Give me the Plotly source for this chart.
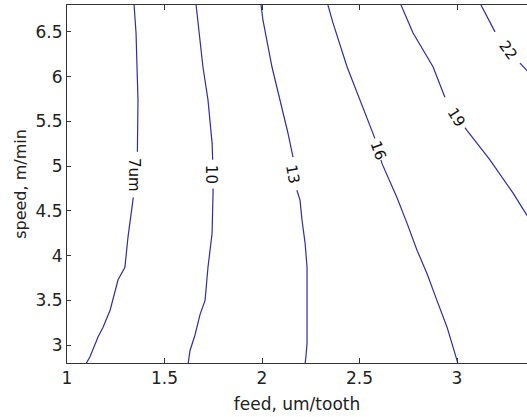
import plotly.graph_objects as go

# Contour levels and their traced lines (feed um/tooth, speed m/min); None = gap for label
levels = ["7um", "10", "13", "16", "19", "22"]

c7_x = [1.344, 1.354, 1.359, 1.364, 1.361, None, 1.340, 1.338, 1.313, 1.297, 1.262, 1.221, 1.185, 1.159, 1.118, 1.097]
c7_y = [6.80, 6.49, 6.11, 5.74, 5.16, None, 4.65, 4.62, 4.21, 3.87, 3.73, 3.39, 3.20, 3.09, 2.87, 2.79]

c10_x = [1.662, 1.677, 1.697, 1.723, 1.744, 1.747, None, 1.749, 1.749, 1.744, 1.723, 1.708, 1.682, 1.656, 1.631, 1.621]
c10_y = [6.80, 6.49, 6.11, 5.74, 5.26, 5.07, None, 4.75, 4.70, 4.25, 3.87, 3.50, 3.34, 3.11, 2.94, 2.79]

c13_x = [1.995, 2.005, 2.051, 2.092, 2.133, 2.159, None, 2.179, 2.195, 2.205, 2.221, 2.231, 2.231, 2.231, 2.226, 2.221]
c13_y = [6.80, 6.63, 6.11, 5.74, 5.37, 5.10, None, 4.73, 4.62, 4.40, 4.14, 3.87, 3.50, 3.02, 2.89, 2.79]

c16_x = [2.338, 2.364, 2.436, 2.503, 2.569, 2.579, None, 2.610, 2.615, 2.692, 2.697, 2.744, 2.795, 2.846, 2.897, 2.949, 3.000, 3.005]
c16_y = [6.80, 6.60, 6.11, 5.74, 5.37, 5.31, None, 5.07, 5.03, 4.65, 4.62, 4.36, 4.06, 3.80, 3.50, 3.20, 2.83, 2.79]

c19_x = [2.713, 2.774, 2.877, 2.938, None, 3.041, 3.051, 3.169, 3.287, 3.359, 3.400]
c19_y = [6.80, 6.49, 6.11, 5.77, None, 5.43, 5.40, 5.07, 4.70, 4.45, 4.31]

c22_x = [3.123, 3.195, None, 3.323, 3.359, 3.451]
c22_y = [6.80, 6.50, None, 6.15, 6.07, 5.85]

# label positions and orientation along the line
label_x = [1.344, 1.740, 2.156, 2.595, 2.995, 3.262]
label_y = [4.90, 4.91, 4.91, 5.18, 5.55, 6.30]
label_angle = [90, 90, 80, 70, 58, 54]

x_ticks = [1, 1.5, 2, 2.5, 3]
y_ticks = [3, 3.5, 4, 4.5, 5, 5.5, 6, 6.5]

line_color = "rgb(45,45,170)"
font_family = "DejaVu Sans"
text_color = "#222222"

fig = go.Figure()
for xs, ys in [(c7_x, c7_y), (c10_x, c10_y), (c13_x, c13_y),
               (c16_x, c16_y), (c19_x, c19_y), (c22_x, c22_y)]:
    fig.add_trace(go.Scatter(x=xs, y=ys, mode="lines",
                             line=dict(color=line_color, width=1.2),
                             connectgaps=False, showlegend=False,
                             hoverinfo="skip"))

for txt, lx, ly, ang in zip(levels, label_x, label_y, label_angle):
    fig.add_annotation(x=lx, y=ly, text=txt, textangle=ang, showarrow=False,
                       font=dict(family=font_family, size=15, color="#111111"))

fig.update_layout(
    width=527, height=417,
    margin=dict(l=67, r=0, t=5, b=54, autoexpand=False),
    paper_bgcolor="white", plot_bgcolor="white",
    font=dict(family=font_family, size=17, color=text_color),
)
fig.update_xaxes(
    range=[1, 3.359], tickvals=x_ticks, ticktext=[str(v) for v in x_ticks],
    ticks="inside", ticklen=5, tickcolor="#333", showline=True, linecolor="#333",
    linewidth=1, mirror="ticks", showgrid=False, zeroline=False, automargin=False,
    title=dict(text="feed, um/tooth", standoff=10, font=dict(size=17)),
)
fig.update_yaxes(
    range=[2.8, 6.8], tickvals=y_ticks, ticktext=[str(v) for v in y_ticks],
    ticks="inside", ticklen=4, tickcolor="#333", showline=True, linecolor="#333",
    linewidth=1, mirror=False, showgrid=False, zeroline=False, automargin=False,
    title=dict(text="speed, m/min", standoff=4, font=dict(size=16)),
)

fig.write_html(
    "out.html",
    config={"displayModeBar": False},
    post_script="document.body.style.margin='0';document.body.style.overflow='hidden';",
)
